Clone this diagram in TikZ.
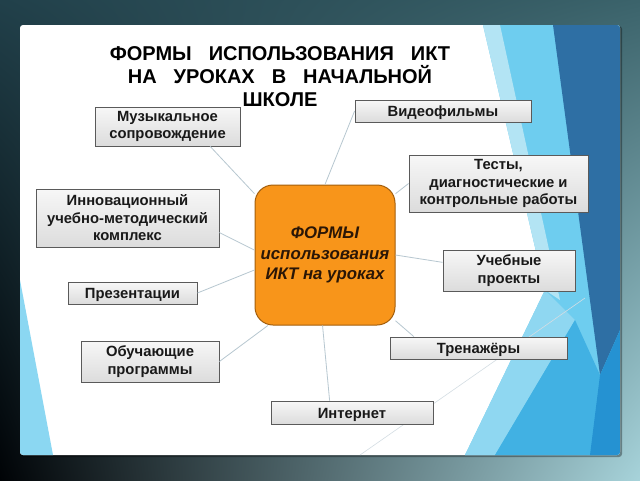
\documentclass[tikz,border=0pt]{standalone}
\usepackage{fontspec}
\setmainfont{Liberation Sans}
\usetikzlibrary{shadows,shadings}
\definecolor{boxline}{HTML}{5A5A5A}
\definecolor{boxtop}{HTML}{F7F7F7}
\definecolor{boxbot}{HTML}{DCDCDC}
\definecolor{hubfill}{HTML}{F8951A}
\definecolor{hubline}{HTML}{A35E0C}
\definecolor{hubtext}{HTML}{2A1606}
\definecolor{linkc}{HTML}{B7C7D0}
\definecolor{facetpale}{HTML}{B3E4F4}
\definecolor{facetcyan}{HTML}{6ECDEF}
\definecolor{facetdark}{HTML}{2E6FA4}
\definecolor{facetmid}{HTML}{41B1E3}
\definecolor{facetdeep}{HTML}{2592D2}
\definecolor{facetlight}{HTML}{8FD7F1}
\definecolor{bgul}{HTML}{21404A}
\definecolor{bgur}{HTML}{3B636B}
\definecolor{bgll}{HTML}{000306}
\definecolor{bglr}{HTML}{A7D3DA}
\newcommand{\gap}{\hspace{17pt}}
\begin{document}
\begin{tikzpicture}[x=1pt,y=-1pt,
    item/.style={draw=boxline,line width=0.8pt,top color=boxtop,bottom color=boxbot,
      align=center,inner sep=0pt,text=black!90,
      font=\bfseries\fontsize{14.8}{17.5}\selectfont,
      execute at begin node={\rule{0pt}{14.5pt}},
      drop shadow={opacity=0.2,shadow xshift=1pt,shadow yshift=-1pt}},
    hub/.style={draw=hubline,line width=1pt,fill=hubfill,rounded corners=18pt,
      minimum width=140pt,minimum height=140pt,align=center,text=hubtext,
      font=\bfseries\itshape\fontsize{16.8}{20.5}\selectfont,
      execute at begin node={\rule{0pt}{24pt}}},
    link/.style={draw=linkc,line width=0.8pt}]
  \useasboundingbox (0,0) rectangle (640,480);
  \shade[upper left=bgul,upper right=bgur,lower left=bgll,lower right=bglr]
    (0,0) rectangle (640,480);

  \fill[black,opacity=0.35,rounded corners=3pt] (21,26) rectangle (622,457);
  \fill[white,rounded corners=3pt] (20,25) rectangle (620,455);
  \begin{scope}
    \clip[rounded corners=3pt] (20,25) rectangle (620,455);
    \fill[facetcyan] (483,25) -- (620,25) -- (620,455) -- (465,455) -- (545,290) -- cycle;
    \fill[facetpale] (483,25) -- (500,25) -- (560,300) -- (545,290) -- cycle;
    \fill[facetdark] (553,25) -- (620,25) -- (620,330) -- (600,375) -- cycle;
    \fill[facetlight] (465,455) -- (545,290) -- (575,320) -- (495,455) -- cycle;
    \fill[facetmid] (495,455) -- (575,320) -- (600,375) -- (600,455) -- cycle;
    \fill[facetdeep] (600,375) -- (620,330) -- (620,455) -- (590,455) -- cycle;
    \fill[facetcyan!80] (20,280) -- (53,455) -- (20,455) -- cycle;
    \draw[linkc!60,line width=0.6pt] (360,455) -- (585,298);
  \end{scope}

  \node[anchor=north,align=center,font=\bfseries\fontsize{20}{23}\selectfont] (title) at (280,43)
    {ФОРМЫ\gap ИСПОЛЬЗОВАНИЯ\gap ИКТ\\НА\gap УРОКАХ\gap В\gap НАЧАЛЬНОЙ\\ШКОЛЕ};

  \node[hub] (forms) at (325,255) {ФОРМЫ\\использования\\ИКТ на уроках};

  \node[item,minimum width=145pt,minimum height=39pt] (music) at (167.5,126.5) {Музыкальное\\сопровождение};
  \node[item,minimum width=176pt,minimum height=22pt] (video) at (443,111) {Видеофильмы};
  \node[item,minimum width=179pt,minimum height=57pt] (tests) at (498.5,183.5) {Тесты,\\диагностические и\\контрольные работы};
  \node[item,minimum width=132pt,minimum height=41pt] (projects) at (509,270.5) {Учебные\\проекты};
  \node[item,minimum width=177pt,minimum height=22pt] (trainers) at (478.5,348) {Тренажёры};
  \node[item,minimum width=162pt,minimum height=23pt] (internet) at (352,412.5) {Интернет};
  \node[item,minimum width=138pt,minimum height=41pt] (programs) at (150,361.5) {Обучающие\\программы};
  \node[item,minimum width=129pt,minimum height=22pt] (slides) at (132.5,293) {Презентации};
  \node[item,minimum width=183pt,minimum height=58pt] (complex) at (127.5,218) {Инновационный\\учебно-методический\\комплекс};

  \draw[link] (music.-25) -- (forms.139);
  \draw[link] (video.west) -- (forms.north);
  \draw[link] (tests.west) -- (forms.41);
  \draw[link] (projects.173) -- (forms.east);
  \draw[link] (trainers.170) -- (forms.-43);
  \draw[link] (internet.152) -- (forms.-92);
  \draw[link] (programs.east) -- (forms.-129);
  \draw[link] (slides.east) -- (forms.-168);
  \draw[link] (complex.-9) -- (forms.176);
\end{tikzpicture}
\end{document}
